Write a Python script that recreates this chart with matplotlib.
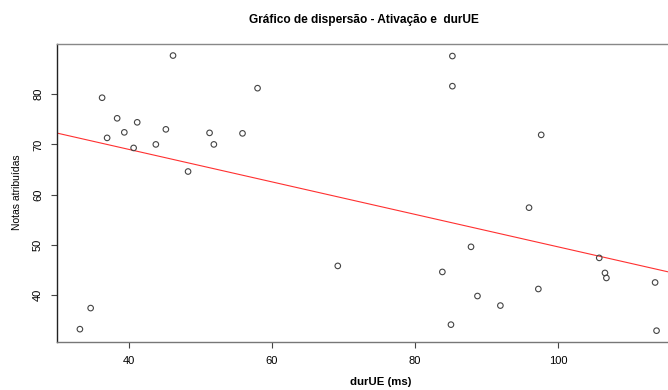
import numpy as np
import matplotlib
matplotlib.use('Agg')
import matplotlib.pyplot as plt

plt.rcParams['font.family'] = ['Liberation Sans', 'DejaVu Sans']

# durUE (ms) and notas atribuidas
dur_ue = [36.3, 37.0, 38.4, 39.4, 40.7, 41.2, 43.8, 45.2, 46.2, 48.3,
          51.3, 51.9, 55.9, 58.0, 33.2, 34.7, 69.2, 83.8, 87.8, 85.0,
          88.7, 91.9, 97.2, 105.7, 106.5, 106.7, 113.5, 113.7, 85.2, 85.2,
          97.6, 95.9]
notas = [79.3, 71.3, 75.2, 72.4, 69.3, 74.4, 70.0, 73.0, 87.7, 64.6,
         72.3, 70.0, 72.2, 81.2, 33.2, 37.4, 45.8, 44.6, 49.6, 34.1,
         39.8, 37.9, 41.2, 47.4, 44.4, 43.4, 42.5, 32.9, 87.6, 81.6,
         71.9, 57.4]

x_ticks = [40, 60, 80, 100]
y_ticks = [40, 50, 60, 70, 80]

fig = plt.figure(figsize=(6.68, 3.90), dpi=100)
ax = fig.add_axes([0.0853, 0.1238, 0.9147, 0.7621])

ax.scatter(dur_ue, notas, s=16, facecolors='none', edgecolors='#444444',
           linewidths=0.8, zorder=3)

# regression line (lm fit)
slope, intercept = np.polyfit(dur_ue, notas, 1)
xl = np.array([30.0, 115.3])
ax.plot(xl, intercept + slope * xl, color='#ff3030', linewidth=0.8)

ax.set_xlim(30.0, 115.3)
ax.set_ylim(30.7, 89.9)
ax.set_xticks(x_ticks)
ax.set_yticks(y_ticks)
ax.tick_params(axis='both', labelsize=8, length=4, width=0.8,
               color='#444444', pad=6)
for lbl in ax.get_yticklabels():
    lbl.set_rotation(90)
    lbl.set_va('center')

ax.spines['right'].set_visible(False)
ax.spines['left'].set_color('#222222')
ax.spines['top'].set_color('#888888')
ax.spines['bottom'].set_color('#777777')
for sp in ax.spines.values():
    sp.set_linewidth(1.0)

fig.text(364 / 668, 1 - 20 / 390, 'Gráfico de dispersão - Ativação e  durUE',
         ha='center', va='center', fontsize=8.6, fontweight='bold')
fig.text(381 / 668, 1 - 382 / 390, 'durUE (ms)', ha='center', va='center',
         fontsize=8.2, fontweight='bold')
fig.text(17 / 668, 1 - 192 / 390, 'Notas atribuídas', ha='center', va='center',
         rotation=90, fontsize=7.5)

fig.savefig('out.png', dpi=100)
